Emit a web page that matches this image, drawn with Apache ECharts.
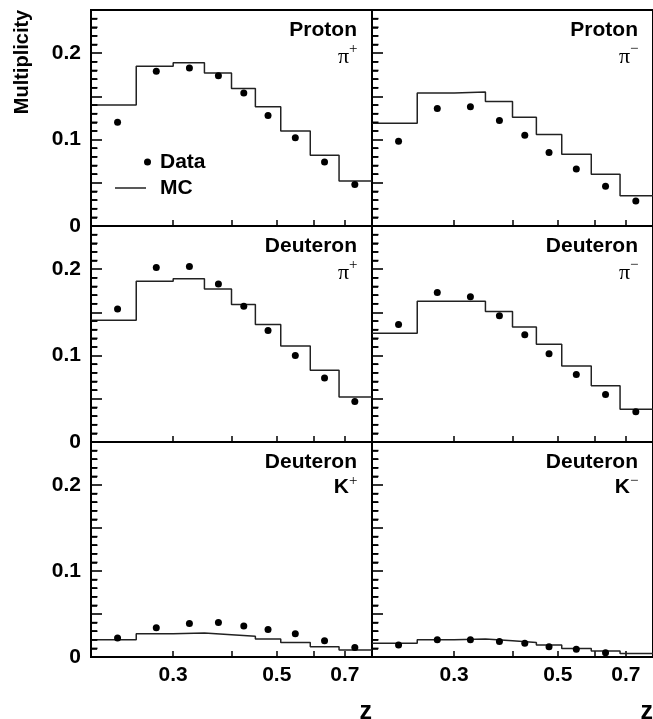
<!DOCTYPE html>
<html>
<head>
<meta charset="utf-8">
<script src="https://cdn.jsdelivr.net/npm/echarts@6/dist/echarts.min.js"></script>
<style>html,body{margin:0;padding:0;background:#fff}#c{width:653px;height:719px}</style>
</head>
<body>
<div id="c"></div>
<script>
// ---- data ----
const zEdges = [0.2, 0.25, 0.3, 0.35, 0.4, 0.45, 0.51, 0.59, 0.68, 0.8];
const zData = [0.228, 0.276, 0.325, 0.375, 0.425, 0.479, 0.548, 0.633, 0.735];
const xTicks = [0.3, 0.4, 0.5, 0.6, 0.7];
const xTickLabels = [0.3, 0.5, 0.7];
const yTickLabels = [0, 0.1, 0.2];

const protonPipData = [0.120, 0.179, 0.183, 0.174, 0.154, 0.128, 0.102, 0.074, 0.048];
const protonPipMC   = [0.140, 0.185, 0.189, 0.177, 0.159, 0.138, 0.110, 0.082, 0.052];
const protonPimData = [0.098, 0.136, 0.138, 0.122, 0.105, 0.085, 0.066, 0.046, 0.029];
const protonPimMC   = [0.119, 0.154, 0.155, 0.144, 0.126, 0.106, 0.083, 0.060, 0.035];
const deutPipData   = [0.154, 0.202, 0.203, 0.183, 0.157, 0.129, 0.100, 0.074, 0.047];
const deutPipMC     = [0.141, 0.186, 0.189, 0.177, 0.159, 0.136, 0.111, 0.083, 0.052];
const deutPimData   = [0.136, 0.173, 0.168, 0.146, 0.124, 0.102, 0.078, 0.055, 0.035];
const deutPimMC     = [0.126, 0.163, 0.163, 0.151, 0.133, 0.113, 0.088, 0.065, 0.038];
const deutKpData    = [0.022, 0.034, 0.039, 0.040, 0.036, 0.032, 0.027, 0.019, 0.011];
const deutKpMC      = [0.020, 0.027, 0.028, 0.026, 0.024, 0.021, 0.017, 0.012, 0.008];
const deutKmData    = [0.014, 0.020, 0.020, 0.018, 0.016, 0.012, 0.009, 0.005];
const deutKmMC      = [0.016, 0.020, 0.021, 0.019, 0.017, 0.014, 0.010, 0.007, 0.004];

const targets   = ['Proton', 'Proton', 'Deuteron', 'Deuteron', 'Deuteron', 'Deuteron'];
const hadrons   = ['π', 'π', 'π', 'π', 'K', 'K'];
const charges   = ['+', '−', '+', '−', '+', '−'];
const dataSets  = [protonPipData, protonPimData, deutPipData, deutPimData, deutKpData, deutKmData];
const mcSets    = [protonPipMC, protonPimMC, deutPipMC, deutPimMC, deutKpMC, deutKmMC];

// ---- layout ----
const SANS = '"Liberation Sans", Arial, Helvetica, sans-serif';
const SERIF = '"Liberation Serif", "Times New Roman", serif';
const colLeft = [91, 372];
const colWidth = [281, 282];
const rowTop = [10, 226, 442];
const rowHeight = [216, 216, 215];
const L = Math.log10;
// minor y tick positions (every 0.01, skipping the 0.05 majors)
const minorY = [];
for (let k = 1; k < 25; k++) if (k % 5 !== 0) minorY.push(k / 100);

const grids = [], xAxes = [], yAxes = [], series = [], graphics = [];
for (let p = 0; p < 6; p++) {
  const r = Math.floor(p / 2), c = p % 2;
  const left = colLeft[c], top = rowTop[r];
  grids.push({left: left, top: top, width: colWidth[c], height: rowHeight[r],
    show: true, borderColor: '#000', borderWidth: 2, backgroundColor: 'transparent'});
  xAxes.push({
    type: 'value', gridIndex: p, min: L(0.2), max: L(0.8),
    axisLine: {show: true, lineStyle: {color: '#000', width: 2}},
    axisTick: {show: true, inside: true, length: 6, lineStyle: {color: '#000', width: 1.5},
      customValues: xTicks.map(L)},
    axisLabel: {show: r === 2, customValues: xTickLabels.map(L), margin: 8,
      color: '#000', fontWeight: 'bold', fontSize: 21, fontFamily: SANS,
      formatter: v => Math.pow(10, v).toFixed(1)},
    splitLine: {show: false}
  });
  yAxes.push({
    type: 'value', gridIndex: p, position: 'left', min: 0, max: 0.25, interval: 0.05,
    axisLine: {show: true, lineStyle: {color: '#000', width: 2}},
    axisTick: {show: true, inside: true, length: 11, lineStyle: {color: '#000', width: 1.6}},
    minorTick: {show: true, splitNumber: 5, length: 6, lineStyle: {color: '#000', width: 1.5}},
    axisLabel: {show: c === 0, margin: 10, color: '#000', fontWeight: 'bold', fontSize: 21,
      fontFamily: SANS, showMaxLabel: false,
      formatter: v => {
        for (const t of yTickLabels) if (Math.abs(v - t) < 1e-6) return t === 0 ? '0' : t.toFixed(1);
        return '';
      }},
    splitLine: {show: false}
  });
  // minor y ticks as thin rect symbols, placed through the panel's own scales
  series.push({type: 'scatter', xAxisIndex: p, yAxisIndex: p, silent: true, animation: false, z: 5,
    data: minorY.map(v => [L(0.2), v]),
    symbol: 'rect', symbolSize: [6.5, 1.6], symbolOffset: [3.25, 0],
    itemStyle: {color: '#000', opacity: 1}, clip: false});
  // MC histogram as explicit step outline built from bin edges
  const mc = mcSets[p];
  const steps = [];
  for (let i = 0; i < mc.length; i++) {
    steps.push([L(zEdges[i]), mc[i]]);
    steps.push([L(zEdges[i + 1]), mc[i]]);
  }
  series.push({type: 'line', name: 'MC', xAxisIndex: p, yAxisIndex: p, data: steps,
    showSymbol: false, symbol: 'none', lineStyle: {color: '#222', width: 1.5}, clip: true,
    animation: false, z: 3});
  series.push({type: 'scatter', name: 'Data', xAxisIndex: p, yAxisIndex: p,
    data: dataSets[p].map((v, i) => [L(zData[i]), v]),
    symbol: 'circle', symbolSize: 7, itemStyle: {color: '#000', opacity: 1}, animation: false, z: 4});

  // panel labels
  const right = left + 281;
  graphics.push({type: 'text', x: right - 15, y: top + 20,
    style: {text: targets[p], font: 'bold 21px ' + SANS, fill: '#000',
      align: 'right', textAlign: 'right', verticalAlign: 'middle', textVerticalAlign: 'middle'}});
  const isPi = hadrons[p] === 'π';
  graphics.push({type: 'text', x: right - 23, y: top + (isPi ? 47 : 45),
    style: {text: hadrons[p], font: isPi ? ('22px ' + SERIF) : ('bold 21px ' + SANS), fill: '#000',
      align: 'right', textAlign: 'right', verticalAlign: 'middle', textVerticalAlign: 'middle'}});
  graphics.push({type: 'text', x: right - 23, y: top + 39,
    style: {text: charges[p], font: '15px ' + SERIF, fill: '#000',
      align: 'left', textAlign: 'left', verticalAlign: 'middle', textVerticalAlign: 'middle'}});
  if (r === 2) {
    graphics.push({type: 'text', x: right, y: 712,
      style: {text: 'z', font: 'bold 25px ' + SANS, fill: '#000',
        align: 'right', textAlign: 'right', verticalAlign: 'middle', textVerticalAlign: 'middle'}});
  }
}

// y title
graphics.push({type: 'text', x: 22, y: 62, rotation: Math.PI / 2,
  style: {text: 'Multiplicity', font: 'bold 20px ' + SANS, fill: '#000',
    align: 'center', textAlign: 'center', verticalAlign: 'middle', textVerticalAlign: 'middle'}});
// legend
graphics.push({type: 'circle', shape: {cx: 147.5, cy: 162, r: 3.5}, style: {fill: '#000'}});
graphics.push({type: 'line', shape: {x1: 115, y1: 188, x2: 146, y2: 188}, style: {stroke: '#222', lineWidth: 1.5}});
graphics.push({type: 'text', x: 160, y: 162,
  style: {text: 'Data', font: 'bold 21px ' + SANS, fill: '#000',
    align: 'left', textAlign: 'left', verticalAlign: 'middle', textVerticalAlign: 'middle'}});
graphics.push({type: 'text', x: 160, y: 188,
  style: {text: 'MC', font: 'bold 21px ' + SANS, fill: '#000',
    align: 'left', textAlign: 'left', verticalAlign: 'middle', textVerticalAlign: 'middle'}});

const chart = echarts.init(document.getElementById('c'), null, {renderer: 'canvas'});
chart.setOption({
  animation: false,
  backgroundColor: '#fff',
  grid: grids, xAxis: xAxes, yAxis: yAxes, series: series, graphic: graphics
});
</script>
</body>
</html>
